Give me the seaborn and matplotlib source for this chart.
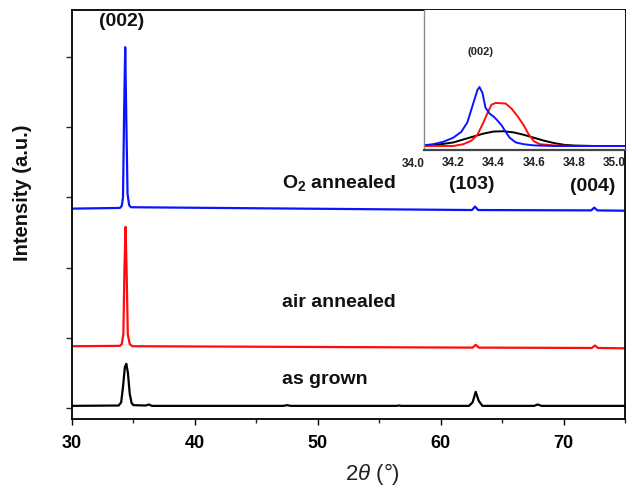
import matplotlib
matplotlib.use("Agg")
import matplotlib.pyplot as plt
import matplotlib.transforms as mtransforms
import seaborn as sns
import pandas as pd

# ---------------- data ----------------
# main pattern: 2theta (deg) and stacked intensity (a.u.)
grown_x = [30.0, 33.8, 34.0, 34.15, 34.3, 34.42, 34.55, 34.7, 34.85, 35.0, 36.0, 36.25, 36.5,
           47.2, 47.5, 47.8, 56.4, 56.6, 56.8, 62.3, 62.6, 62.85, 63.1, 63.4, 67.6, 67.9, 68.2, 75.0]
grown_y = [0.03, 0.035, 0.08, 0.30, 0.58, 0.63, 0.50, 0.20, 0.07, 0.04, 0.035, 0.05, 0.03,
           0.03, 0.04, 0.03, 0.03, 0.035, 0.03, 0.03, 0.08, 0.23, 0.10, 0.03, 0.03, 0.05, 0.03, 0.03]

air_x = [30.0, 33.9, 34.05, 34.18, 34.27, 34.36, 34.45, 34.54, 34.7, 34.9, 62.6, 62.85, 63.1,
         72.3, 72.55, 72.8, 75.0]
air_y = [0.88, 0.885, 0.91, 1.05, 2.00, 2.58, 1.90, 1.05, 0.91, 0.88, 0.86, 0.90, 0.86,
         0.855, 0.89, 0.855, 0.85]

o2_x = [30.0, 33.9, 34.05, 34.15, 34.24, 34.33, 34.42, 34.52, 34.65, 34.8, 62.55, 62.8, 63.05,
        72.25, 72.5, 72.75, 75.0]
o2_y = [2.84, 2.85, 2.88, 3.00, 4.20, 5.14, 4.10, 3.05, 2.89, 2.86, 2.82, 2.87, 2.82,
        2.815, 2.855, 2.815, 2.81]

# inset: (002) region, normalised intensity
in_grown_x = [34.0, 34.05, 34.1, 34.15, 34.2, 34.25, 34.3, 34.35, 34.4, 34.45, 34.5, 34.55,
              34.6, 34.65, 34.7, 34.75, 34.8, 34.9, 35.05]
in_grown_y = [0.0, 0.005, 0.015, 0.035, 0.06, 0.11, 0.16, 0.21, 0.245, 0.25, 0.23, 0.19,
              0.14, 0.09, 0.05, 0.02, 0.008, 0.0, 0.0]

in_air_x = [34.0, 34.2, 34.25, 34.29, 34.32, 34.35, 34.37, 34.39, 34.41, 34.46, 34.49, 34.52,
            34.55, 34.57, 34.60, 34.63, 34.7, 34.8, 35.05]
in_air_y = [0.0, 0.0, 0.03, 0.09, 0.19, 0.40, 0.56, 0.70, 0.73, 0.72, 0.63, 0.50,
            0.35, 0.22, 0.08, 0.03, 0.01, 0.0, 0.0]

in_o2_x = [34.0, 34.05, 34.1, 34.15, 34.2, 34.24, 34.27, 34.30, 34.32, 34.33, 34.345, 34.36,
           34.38, 34.40, 34.42, 34.44, 34.46, 34.48, 34.51, 34.55, 34.6, 34.7, 35.05]
in_o2_y = [0.0, 0.01, 0.03, 0.07, 0.14, 0.24, 0.40, 0.73, 0.95, 1.0, 0.90, 0.65,
           0.55, 0.50, 0.43, 0.35, 0.24, 0.14, 0.06, 0.03, 0.01, 0.0, 0.0]

x_ticks = [30, 40, 50, 60, 70]
inset_ticks = [34.2, 34.4, 34.6, 34.8, 35.0]

# ---------------- style ----------------
sns.set_theme(style="ticks")
plt.rcParams["font.family"] = ["Liberation Sans", "DejaVu Sans"]
plt.rcParams["mathtext.fontset"] = "custom"
plt.rcParams["mathtext.rm"] = "Liberation Sans"
plt.rcParams["mathtext.it"] = "Liberation Sans:italic"
plt.rcParams["mathtext.bf"] = "Liberation Sans:bold"

BLUE = "#0a14ff"
RED = "#ff0d0d"
BLACK = "#000000"

fig = plt.figure(figsize=(6.32, 4.88), dpi=100)
W, H = 632, 488
ax = fig.add_axes([72 / W, 69 / H, 553 / W, 409.5 / H])

for xs, ys, c in [(grown_x, grown_y, BLACK), (air_x, air_y, RED), (o2_x, o2_y, BLUE)]:
    df = pd.DataFrame({"x": xs, "y": ys})
    sns.lineplot(data=df, x="x", y="y", color=c, lw=1.6, sort=False, ax=ax, legend=False)

ax.set_xlim(30, 75)
ax.set_ylim(-0.157, 5.677)
ax.set_xticks(x_ticks)
ax.set_xticks([35, 45, 55, 65, 75], minor=True)
ax.set_yticks([0, 1, 2, 3, 4, 5])
ax.set_yticklabels([])
ax.tick_params(axis="x", which="major", direction="out", length=4.5, width=1.0,
               labelsize=13, pad=7, colors="black")
ax.tick_params(axis="x", which="minor", direction="out", length=3, width=1.0)
ax.tick_params(axis="y", which="major", direction="out", length=4.5, width=1.0)
for lab in ax.get_xticklabels():
    lab.set_fontweight("bold")
for s in ax.spines.values():
    s.set_visible(True)
    s.set_linewidth(1.3)
    s.set_color("black")

ax.set_xlabel(r"2$\mathit{\theta}$ (°)", fontsize=16, color="#222222")
ax.set_ylabel("Intensity (a.u.)", fontsize=14.5, fontweight="bold", color="#111111")
ax.xaxis.set_label_coords((372 - 72) / 553, -(474 - 419) / 409.5)
ax.xaxis.label.set_va("center")
ax.yaxis.set_label_coords((23 - 72) / 553, (419 - 193) / 409.5)
ax.yaxis.label.set_va("center")

bold = dict(fontsize=14, fontweight="bold", color="#111111")
ax.text(34.07, 5.5, "(002)", ha="center", va="center", **bold)
ax.text(47.07, 3.2, r"O$_\mathbf{2}$ annealed", ha="left", va="center", **bold)
ax.text(62.5, 3.18, "(103)", ha="center", va="center", **bold)
ax.text(72.36, 3.16, "(004)", ha="center", va="center", **bold)
ax.text(47.07, 1.5, "air annealed", ha="left", va="center", **bold)
ax.text(47.07, 0.40, "as grown", ha="left", va="center", **bold)

# ---------------- inset ----------------
axi = fig.add_axes([424 / W, 338 / H, 201 / W, 140.5 / H])
for xs, ys, c in [(in_grown_x, in_grown_y, BLACK), (in_air_x, in_air_y, RED), (in_o2_x, in_o2_y, BLUE)]:
    df = pd.DataFrame({"x": xs, "y": ys})
    sns.lineplot(data=df, x="x", y="y", color=c, lw=1.4, sort=False, ax=axi, legend=False)

axi.set_xlim(34.055, 35.052)
axi.set_ylim(-0.068, 2.314)
axi.set_xticks(inset_ticks)
axi.set_xticklabels([f"{t:.1f}" for t in inset_ticks])
axi.set_yticks([])
axi.set_xlabel("")
axi.set_ylabel("")
axi.tick_params(axis="x", length=0, labelsize=8.5, pad=5, colors="#222222")
for lab in axi.get_xticklabels():
    lab.set_fontweight("bold")
axi.spines["top"].set_visible(False)
axi.spines["right"].set_visible(False)
axi.spines["left"].set_color("#8a8a8a")
axi.spines["left"].set_linewidth(1.0)
axi.spines["bottom"].set_color("#444444")
axi.spines["bottom"].set_linewidth(1.6)

# tick label for 34.0, which sits just left of the inset's visible range
trans = mtransforms.blended_transform_factory(axi.transData, axi.transAxes)
axi.text(34.0, -0.055, "34.0", transform=trans, ha="center", va="top", fontsize=8.5,
         fontweight="bold", color="#222222", clip_on=False)
axi.text(34.335, 1.6, "(002)", ha="center", va="center", fontsize=8, fontweight="bold",
         color="#222222")

fig.savefig("out.png", dpi=100)
